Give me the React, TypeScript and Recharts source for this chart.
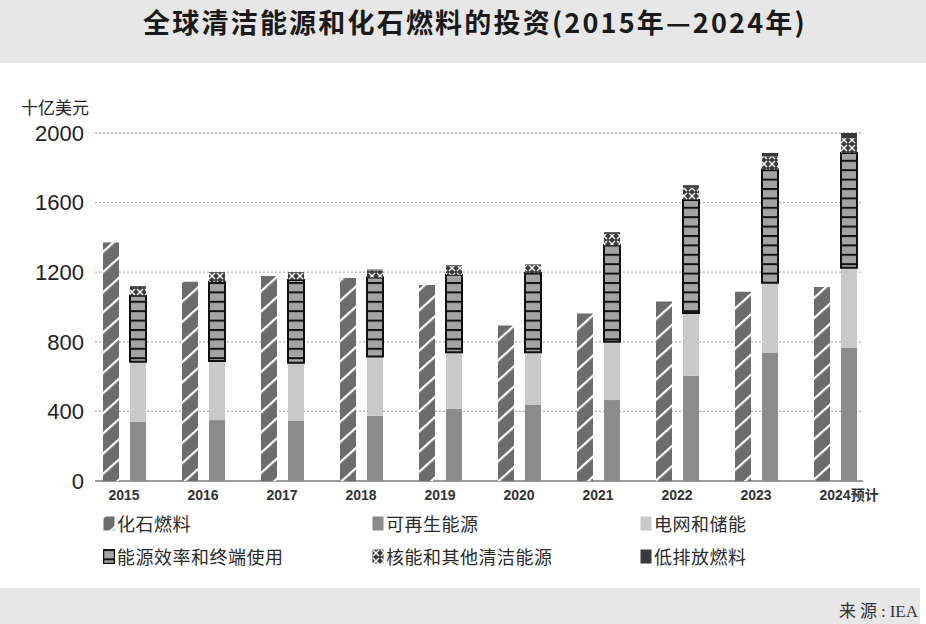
import React from 'react';
import { BarChart, Bar, XAxis, YAxis, CartesianGrid } from 'recharts';

const years = ['2015', '2016', '2017', '2018', '2019', '2020', '2021', '2022', '2023', '2024预计'];
const fossilFuels = [1370, 1145, 1178, 1167, 1126, 893, 963, 1032, 1088, 1115];
const renewables = [340, 350, 345, 375, 415, 440, 465, 605, 735, 765];
const gridStorage = [345, 340, 335, 340, 325, 300, 335, 360, 405, 460];
const efficiency = [380, 455, 475, 455, 445, 455, 555, 650, 650, 660];
const nuclearOther = [50, 50, 40, 40, 50, 45, 65, 70, 75, 85];
const lowEmission = [5, 5, 5, 5, 5, 5, 10, 15, 20, 30];
const yTicks = [0, 400, 800, 1200, 1600, 2000];

const seriesNames = {
  fossil: '化石燃料',
  renew: '可再生能源',
  grid: '电网和储能',
  eff: '能源效率和终端使用',
  nuc: '核能和其他清洁能源',
  low: '低排放燃料',
};

const data = years.map((y, i) => ({
  year: y,
  fossil: fossilFuels[i],
  renew: renewables[i],
  grid: gridStorage[i],
  eff: efficiency[i],
  nuc: nuclearOther[i],
  low: lowEmission[i],
}));

const fills: Record<string, string> = {
  fossil: 'url(#pFossil)',
  renew: '#8b8b8b',
  grid: '#c9c9c9',
  eff: 'url(#pEff)',
  nuc: 'url(#pNuc)',
  low: '#3a3a3a',
};

const legendRows = [
  ['fossil', 'renew', 'grid'],
  ['eff', 'nuc', 'low'],
];
const legendCols = [103, 372, 640];
const legendRowY = [523, 556];

const XTick = (props: any) => {
  const { x, y, payload } = props;
  return (
    <text x={x - 16} y={y} dy="0.71em" textAnchor="start" fontSize={14} fontWeight={700} fill="#333"
      fontFamily="'Liberation Sans', 'Noto Sans CJK SC', sans-serif">
      {payload.value}
    </text>
  );
};

const gridLine = (p: any) => {
  const isBase = Math.abs(p.y1 - (p.y + p.height)) < 1;
  return (
    <line key={'g' + p.index + '-' + p.y1} x1={p.x1 + 10} x2={p.x2 - 12} y1={p.y1} y2={p.y2}
      stroke={isBase ? '#9a9a9a' : '#b0b0b0'} strokeWidth={isBase ? 2 : 1.3}
      strokeDasharray={isBase ? undefined : '2 2'} />
  );
};

export default function App() {
  const font = "'Noto Sans CJK SC', 'Liberation Sans', sans-serif";
  return (
    <div style={{ position: 'absolute', left: 0, top: 0, width: 926, height: 624, background: '#fff', overflow: 'hidden' }}>
      <div style={{ position: 'absolute', left: 0, top: 0, width: 926, height: 63, background: '#e7e7e7' }} />
      <div style={{ position: 'absolute', left: 0, top: 588, width: 920, height: 36, background: '#e7e7e7' }} />
      <div style={{ position: 'absolute', left: 0, top: 2, width: 950, textAlign: 'center', fontFamily: font, fontWeight: 700, fontSize: 27, color: '#1a1a1a', lineHeight: '40px', letterSpacing: 2.2 }}>
        全球清洁能源和化石燃料的投资(2015年—2024年)
      </div>
      <div style={{ position: 'absolute', left: 21, top: 95, fontFamily: font, fontSize: 17, color: '#222', lineHeight: '24px' }}>
        十亿美元
      </div>
      <div style={{ position: 'absolute', right: 8, top: 600, fontFamily: "'Liberation Serif', 'Noto Sans CJK SC', serif", fontSize: 17, color: '#333', lineHeight: '24px' }}>
        <span style={{ letterSpacing: 4 }}>来源:</span>IEA
      </div>
      <div style={{ position: 'absolute', left: 0, top: 0 }}>
        <BarChart width={926} height={624} data={data} margin={{ top: 133, right: 51, bottom: 113, left: 0 }}
          barSize={16} barGap={11}>
          <defs>
            <pattern id="pFossil" patternUnits="userSpaceOnUse" width="15" height="15" patternTransform="rotate(-42)">
              <rect width="15" height="15" fill="#6c6c6c" />
              <rect y="0" width="15" height="2.2" fill="#ffffff" />
            </pattern>
            <pattern id="pEff" patternUnits="userSpaceOnUse" width="20" height="9.4">
              <rect width="20" height="9.4" fill="#a4a4a4" />
              <rect width="20" height="2" fill="#111" />
            </pattern>
            <pattern id="pNuc" patternUnits="userSpaceOnUse" width="8" height="8">
              <rect width="8" height="8" fill="#3c3c3c" />
              <path d="M1,1 L4,4 L1,7 M7,1 L4,4 L7,7" stroke="#fff" strokeWidth="1.4" fill="none" />
            </pattern>
          </defs>
          <CartesianGrid vertical={false} horizontal={gridLine} />
          <XAxis dataKey="year" height={30} axisLine={false} tickLine={false} tickSize={0} tickMargin={9} tick={<XTick />} interval={0} />
          <YAxis width={85} domain={[0, 2000]} ticks={yTicks} axisLine={false} tickLine={false} tickSize={0} tickMargin={1}
            tick={{ fontSize: 22, fill: '#222', fontFamily: "'Liberation Sans', sans-serif" }} />
          <Bar dataKey="fossil" stackId="a" fill={fills.fossil} isAnimationActive={false} name={seriesNames.fossil} />
          <Bar dataKey="renew" stackId="b" fill={fills.renew} isAnimationActive={false} name={seriesNames.renew} />
          <Bar dataKey="grid" stackId="b" fill={fills.grid} isAnimationActive={false} name={seriesNames.grid} />
          <Bar dataKey="eff" stackId="b" fill={fills.eff} stroke="#111" strokeWidth={2} isAnimationActive={false} name={seriesNames.eff} />
          <Bar dataKey="nuc" stackId="b" fill={fills.nuc} isAnimationActive={false} name={seriesNames.nuc} />
          <Bar dataKey="low" stackId="b" fill={fills.low} isAnimationActive={false} name={seriesNames.low} />
        </BarChart>
      </div>
      {legendRows.map((row, ri) =>
        row.map((key, ci) => (
          <div key={key} style={{ position: 'absolute', left: legendCols[ci], top: legendRowY[ri] - 12, height: 24, display: 'flex', alignItems: 'center' }}>
            <svg width={12} height={15} style={{ marginRight: 2 }}>
              <rect x={0.5} y={0.5} width={11} height={14} fill={fills[key]} stroke={key === 'eff' ? '#111' : 'none'} strokeWidth={1.5} />
            </svg>
            <span style={{ fontFamily: font, fontSize: 18, color: '#2a2a2a', letterSpacing: 0.5 }}>
              {(seriesNames as any)[key]}
            </span>
          </div>
        ))
      )}
    </div>
  );
}
